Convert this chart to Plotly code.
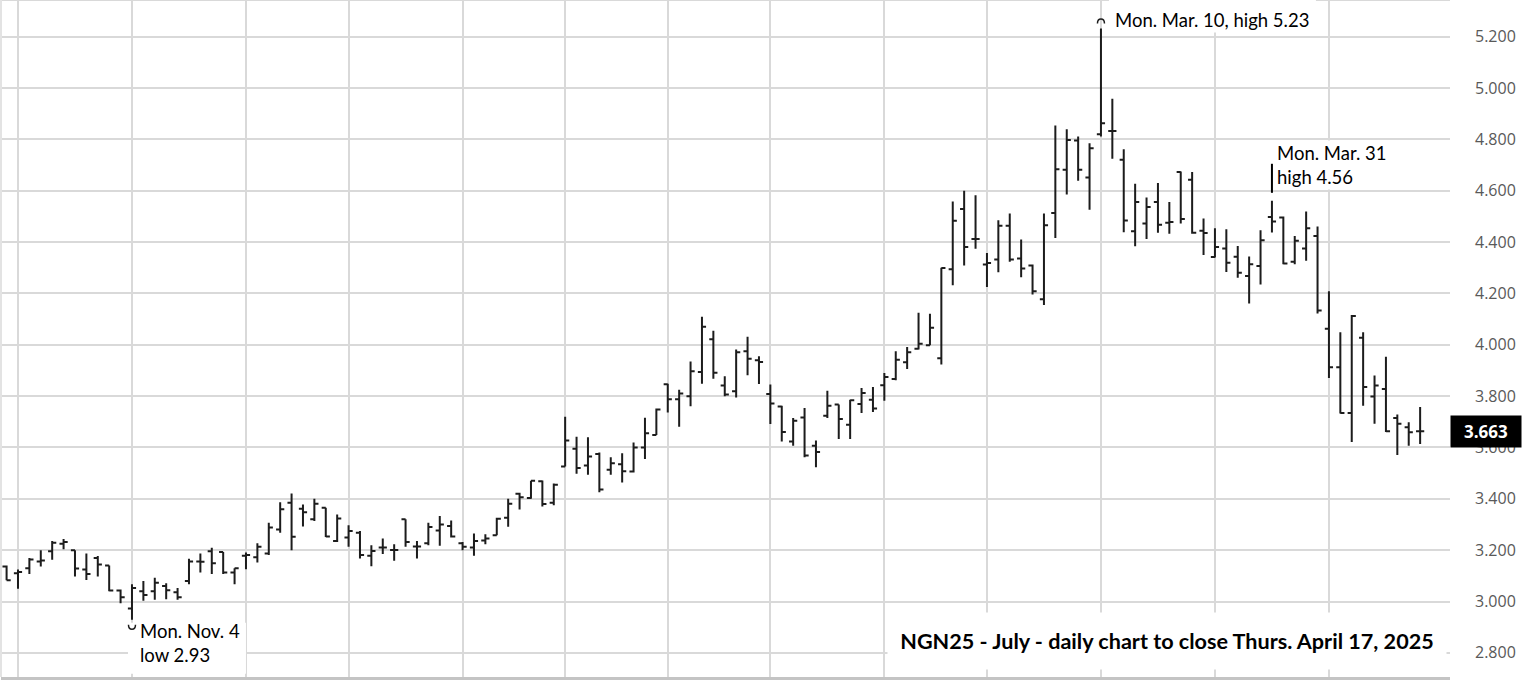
import pandas as pd
import plotly.graph_objects as go

# ---- data (NGN25 daily OHLC) ----
holidays = ["2024-11-28", "2024-12-25", "2025-01-01", "2025-01-20", "2025-02-17"]
dates = [d.strftime("%Y-%m-%d") for d in
         pd.bdate_range("2024-10-18", "2025-04-17", freq="C", holidays=holidays)]

opens = [3.136, 3.11, 3.13, 3.156, 3.196, 3.225, 3.2, 3.125, 3.17, 3.14,
         3.043, 2.973, 3.04, 3.04, 3.06, 3.036, 3.08, 3.156, 3.196, 3.193,
         3.113, 3.178, 3.172, 3.187, 3.281, 3.385, 3.361, 3.32, 3.365, 3.236,
         3.249, 3.268, 3.178, 3.21, 3.201, 3.32, 3.214, 3.227, 3.277, 3.294,
         3.227, 3.21, 3.238, 3.258, 3.326, 3.42, 3.403, 3.468, 3.385, 3.526,
         3.595, 3.53, 3.575, 3.513, 3.535, 3.506, 3.6, 3.649, 3.846, 3.788,
         3.8, 3.894, 4.022, 3.841, 3.819, 3.975, 3.94, 3.808, 3.76, 3.623,
         3.717, 3.607, 3.724, 3.767, 3.689, 3.769, 3.786, 3.842, 3.867, 3.932,
         3.985, 3.998, 3.948, 4.294, 4.529, 4.412, 4.313, 4.332, 4.464, 4.336,
         4.309, 4.177, 4.513, 4.682, 4.796, 4.652, 4.82, 4.833, 4.721, 4.442,
         4.472, 4.556, 4.475, 4.673, 4.643, 4.444, 4.342, 4.375, 4.343, 4.268,
         4.307, 4.498, 4.496, 4.323, 4.375, 4.424, 4.062, 3.913, 3.734, 4.027,
         3.799, 3.828, 3.715, 3.679, 3.663]
highs = [3.14, 3.125, 3.17, 3.2, 3.236, 3.244, 3.2, 3.187, 3.177, 3.14,
         3.047, 3.067, 3.08, 3.093, 3.071, 3.053, 3.167, 3.187, 3.209, 3.193,
         3.13, 3.191, 3.227, 3.307, 3.387, 3.421, 3.378, 3.4, 3.365, 3.339,
         3.297, 3.275, 3.219, 3.245, 3.223, 3.32, 3.236, 3.307, 3.333, 3.316,
         3.232, 3.265, 3.262, 3.326, 3.4, 3.424, 3.47, 3.471, 3.46, 3.72,
         3.642, 3.64, 3.58, 3.562, 3.578, 3.619, 3.716, 3.752, 3.848, 3.825,
         3.935, 4.109, 4.055, 3.877, 3.982, 4.031, 3.955, 3.845, 3.763, 3.715,
         3.754, 3.627, 3.821, 3.767, 3.786, 3.832, 3.836, 3.89, 3.975, 3.991,
         4.125, 4.121, 4.3, 4.558, 4.6, 4.582, 4.358, 4.485, 4.511, 4.41,
         4.313, 4.511, 4.854, 4.84, 4.811, 4.785, 5.232, 4.958, 4.762, 4.627,
         4.574, 4.63, 4.556, 4.675, 4.673, 4.492, 4.454, 4.45, 4.385, 4.344,
         4.446, 4.561, 4.5, 4.424, 4.519, 4.461, 4.209, 4.049, 4.116, 4.049,
         3.88, 3.953, 3.728, 3.698, 3.758]
lows = [3.083, 3.05, 3.107, 3.136, 3.163, 3.204, 3.097, 3.084, 3.097, 3.04,
        2.993, 2.929, 3.003, 3.007, 3.009, 3.007, 3.067, 3.113, 3.107, 3.107,
        3.067, 3.126, 3.152, 3.181, 3.268, 3.2, 3.292, 3.314, 3.251, 3.232,
        3.213, 3.168, 3.137, 3.185, 3.159, 3.213, 3.168, 3.219, 3.217, 3.249,
        3.2, 3.178, 3.223, 3.258, 3.291, 3.358, 3.4, 3.37, 3.375, 3.526,
        3.498, 3.494, 3.426, 3.494, 3.464, 3.503, 3.555, 3.649, 3.736, 3.681,
        3.761, 3.848, 3.868, 3.8, 3.795, 3.881, 3.847, 3.691, 3.623, 3.607,
        3.562, 3.523, 3.715, 3.633, 3.633, 3.734, 3.738, 3.782, 3.862, 3.906,
        3.982, 3.998, 3.923, 4.232, 4.309, 4.374, 4.225, 4.283, 4.323, 4.263,
        4.196, 4.155, 4.416, 4.585, 4.639, 4.526, 4.811, 4.725, 4.438, 4.384,
        4.412, 4.436, 4.433, 4.472, 4.433, 4.35, 4.34, 4.284, 4.261, 4.161,
        4.235, 4.437, 4.314, 4.314, 4.327, 4.122, 3.871, 3.732, 3.621, 3.763,
        3.692, 3.66, 3.571, 3.607, 3.614]
closes = [3.083, 3.115, 3.164, 3.16, 3.229, 3.232, 3.129, 3.107, 3.144, 3.043,
          3.017, 3.053, 3.025, 3.073, 3.044, 3.017, 3.156, 3.155, 3.149, 3.113,
          3.13, 3.181, 3.213, 3.288, 3.359, 3.252, 3.348, 3.381, 3.253, 3.323,
          3.275, 3.181, 3.197, 3.21, 3.201, 3.232, 3.214, 3.29, 3.3, 3.253,
          3.213, 3.236, 3.245, 3.322, 3.381, 3.406, 3.47, 3.38, 3.455, 3.627,
          3.52, 3.565, 3.436, 3.539, 3.507, 3.6, 3.655, 3.748, 3.788, 3.81,
          3.897, 4.07, 3.891, 3.806, 3.971, 3.946, 3.933, 3.771, 3.66, 3.704,
          3.569, 3.582, 3.763, 3.711, 3.784, 3.812, 3.752, 3.875, 3.942, 3.971,
          4.004, 4.066, 4.299, 4.483, 4.381, 4.412, 4.319, 4.464, 4.332, 4.297,
          4.209, 4.466, 4.684, 4.798, 4.682, 4.766, 4.863, 4.833, 4.484, 4.556,
          4.537, 4.468, 4.478, 4.49, 4.436, 4.435, 4.381, 4.32, 4.281, 4.314,
          4.407, 4.48, 4.317, 4.405, 4.454, 4.134, 3.913, 3.734, 4.112, 3.836,
          3.841, 3.663, 3.692, 3.659, 3.663]

grid_dates = [d.strftime("%Y-%m-%d") for d in
              pd.date_range("2024-10-21", "2025-04-17", freq="2W-MON")]
y_ticks = [2.8, 3.0, 3.2, 3.4, 3.6, 3.8, 4.0, 4.2, 4.4, 4.6, 4.8, 5.0, 5.2]

last_close = closes[-1]
title_text = "NGN25 - July - daily chart to close Thurs. April 17, 2025"
hi_date, hi_val = "2025-03-10", 5.232
hi2_date, hi2_val = "2025-03-31", 4.561
lo_date, lo_val = "2024-11-04", 2.929

GRID = "#d9d9d9"
BAR = "#1c1c1c"
FONT = "Lato"

fig = go.Figure()
fig.add_trace(go.Ohlc(
    x=dates, open=opens, high=highs, low=lows, close=closes,
    increasing=dict(line=dict(color=BAR, width=2)),
    decreasing=dict(line=dict(color=BAR, width=2)),
    tickwidth=0.36, showlegend=False, hoverinfo="skip"))

fig.update_layout(
    width=1523, height=681,
    margin=dict(l=1, r=73, t=0, b=4),
    paper_bgcolor="white", plot_bgcolor="white",
    showlegend=False,
    xaxis=dict(type="category", range=[-0.49, 126.62],
               tickmode="array", tickvals=grid_dates, showticklabels=False,
               showgrid=True, gridcolor=GRID, gridwidth=2, ticks="",
               showline=True, linecolor="#c4c4c4", linewidth=3,
               rangeslider=dict(visible=False), fixedrange=True, automargin=False),
    yaxis=dict(side="right", range=[2.706, 5.343], tickmode="array",
               tickvals=y_ticks, tickformat=".3f",
               showgrid=True, gridcolor=GRID, gridwidth=2, zeroline=False,
               ticks="", ticklabelstandoff=24, automargin=False,
               tickfont=dict(family="Open Sans", size=16, color="#595959"),
               fixedrange=True),
)

# borders (top / left)
fig.add_shape(type="line", xref="paper", yref="paper", x0=0, x1=1, y0=1, y1=1,
              line=dict(color=GRID, width=2))
fig.add_shape(type="line", xref="paper", yref="paper", x0=0, x1=0, y0=0, y1=1,
              line=dict(color="#e3e3e3", width=2))

# white text-box backgrounds (hide gridlines as in the original)
fig.add_shape(type="rect", xref="x", yref="y", xsizemode="pixel", ysizemode="pixel",
              xanchor=lo_date, yanchor=lo_val, x0=-4, x1=114, y0=-3, y1=-54,
              fillcolor="white", line=dict(width=0), layer="above")
fig.add_shape(type="rect", xref="x", yref="y", xsizemode="pixel", ysizemode="pixel",
              xanchor=hi_date, yanchor=hi_val, x0=8, x1=215, y0=8, y1=40,
              fillcolor="white", line=dict(width=0), layer="above")

# little arcs at the extreme high / low
fig.add_shape(type="path", xref="x", yref="y", xsizemode="pixel", ysizemode="pixel",
              xanchor=hi_date, yanchor=hi_val,
              path="M -3.5,5 C -3.5,11 3.5,11 3.5,5", line=dict(color=BAR, width=1.5),
              layer="above")
fig.add_shape(type="path", xref="x", yref="y", xsizemode="pixel", ysizemode="pixel",
              xanchor=lo_date, yanchor=lo_val,
              path="M -3.5,-5 C -3.5,-11 3.5,-11 3.5,-5", line=dict(color=BAR, width=1.5),
              layer="above")
# pointer line for Mar 31 high
fig.add_shape(type="line", xref="x", yref="y", x0=hi2_date, x1=hi2_date,
              y0=4.592, y1=4.705, line=dict(color="black", width=2))

ann_font = dict(family=FONT, size=18.5, color="black")
fig.add_annotation(x=hi_date, y=5.265, xref="x", yref="y", text="Mon. Mar. 10, high 5.23",
                   showarrow=False, xanchor="left", yanchor="middle", xshift=12,
                   bgcolor="white", font=ann_font)
fig.add_annotation(x=hi2_date, y=4.70, xref="x", yref="y", text="Mon. Mar. 31<br>high 4.56",
                   showarrow=False, xanchor="left", yanchor="middle", xshift=3, align="left",
                   bgcolor="white", font=ann_font)
fig.add_annotation(x=lo_date, y=2.838, xref="x", yref="y", text="Mon. Nov. 4<br>low 2.93",
                   showarrow=False, xanchor="left", yanchor="middle", xshift=6, align="left",
                   bgcolor="white", font=ann_font)

# title box
fig.add_annotation(x=0.8046, y=0.0532, xref="paper", yref="paper", text="<b>" + title_text + "</b>",
                   showarrow=False, xanchor="center", yanchor="middle",
                   width=556, height=54, bgcolor="white",
                   font=dict(family=FONT, size=21.6, color="black"))

# last price label
fig.add_annotation(x=1, y=last_close, xref="paper", yref="y", text="<b>%.3f</b>" % last_close,
                   showarrow=False, xanchor="left", yanchor="middle",
                   width=68, height=29, bgcolor="black", align="center",
                   font=dict(family="Open Sans", size=17, color="white"))

fig.write_html("out.html", config={"displayModeBar": False},
               post_script="document.body.style.margin='0';document.body.style.overflow='hidden';")
